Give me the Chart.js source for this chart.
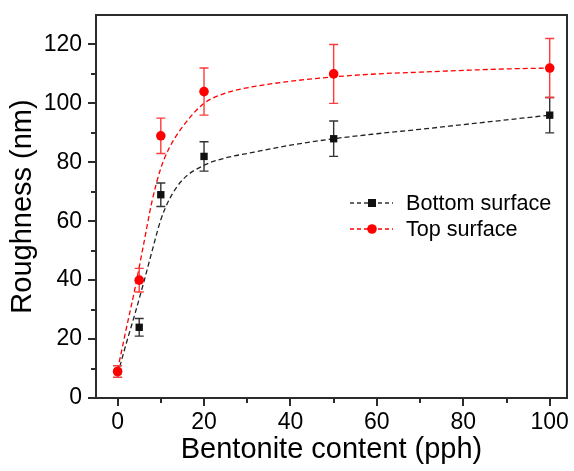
<!DOCTYPE html>
<html>
<head>
<meta charset="utf-8">
<script src="https://cdn.jsdelivr.net/npm/chart.js@4.4.0/dist/chart.umd.min.js"></script>
<style>
  html, body { margin: 0; padding: 0; background: #ffffff; }
  #wrap { width: 574px; height: 471px; }
</style>
</head>
<body>
<div id="wrap"><canvas id="c" width="574" height="471"></canvas></div>
<script>
// ---- data ----
const contents = [0, 5, 10, 20, 50, 100];           // Bentonite content (pph)
const bottomRoughness = [9, 24, 69, 82, 88, 96];     // nm
const bottomError = [2, 3, 4, 5, 6, 6];
const topRoughness = [9, 40, 89, 104, 110, 112];     // nm
const topError = [2, 4, 6, 8, 10, 10];

// dashed fitted curves
const fitContents = [0, 2, 4, 6, 8, 10, 12, 15, 20, 25, 30, 40, 50, 60, 70, 80, 90, 100];
const bottomFit = [8, 18.5, 28.5, 39, 50, 60.5, 67.5, 74, 79, 81.5, 83, 85.8, 88, 89.7, 91.2, 92.8, 94.4, 96];
const topFit = [9.5, 23.5, 37, 52, 67, 78, 85, 92, 100, 103.5, 105.3, 107.5, 109, 110, 110.6, 111.2, 111.7, 112];

const xMajorTicks = [0, 20, 40, 60, 80, 100];
const xMinorTicks = [10, 30, 50, 70, 90];
const yMajorTicks = [0, 20, 40, 60, 80, 100, 120];
const yMinorTicks = [10, 30, 50, 70, 90, 110];

const seriesNames = ['Bottom surface', 'Top surface'];
const xTitle = 'Bentonite content (pph)';
const yTitle = 'Roughness (nm)';

// ---- styling ----
const FONT = "'Liberation Sans', Arial, Helvetica, sans-serif";
const BLACK = '#111111';
const RED = '#ff0000';
const FRAME = '#2b2b2b';

const toXY = (xs, ys) => xs.map((x, i) => ({ x: x, y: ys[i] }));

const errorBarPlugin = {
  id: 'errorBars',
  beforeDatasetDraw(chart, args) {
    const ds = chart.data.datasets[args.index];
    if (!ds.errors) return;
    const ys = chart.scales.y;
    const ctx = chart.ctx;
    ctx.save();
    ctx.strokeStyle = ds.errorColor;
    ctx.lineWidth = 1.4;
    ctx.setLineDash([]);
    const cap = 4.5;
    args.meta.data.forEach((pt, i) => {
      const v = ds.data[i].y, e = ds.errors[i];
      const yTop = ys.getPixelForValue(v + e);
      const yBot = ys.getPixelForValue(v - e);
      const x = pt.x;
      ctx.beginPath();
      ctx.moveTo(x, yTop); ctx.lineTo(x, yBot);
      ctx.moveTo(x - cap, yTop); ctx.lineTo(x + cap, yTop);
      ctx.moveTo(x - cap, yBot); ctx.lineTo(x + cap, yBot);
      ctx.stroke();
    });
    ctx.restore();
  }
};

const framePlugin = {
  id: 'frameTicksLegend',
  afterDraw(chart) {
    const ctx = chart.ctx;
    const a = chart.chartArea;
    const xs = chart.scales.x, ys = chart.scales.y;
    ctx.save();
    ctx.setLineDash([]);
    ctx.strokeStyle = FRAME;
    ctx.lineWidth = 2;
    ctx.strokeRect(a.left, a.top, a.right - a.left, a.bottom - a.top);
    // ticks (outward)
    ctx.beginPath();
    xMajorTicks.forEach(v => { const p = Math.round(xs.getPixelForValue(v)); ctx.moveTo(p, a.bottom); ctx.lineTo(p, a.bottom + 8); });
    xMinorTicks.forEach(v => { const p = Math.round(xs.getPixelForValue(v)); ctx.moveTo(p, a.bottom); ctx.lineTo(p, a.bottom + 5); });
    yMajorTicks.forEach(v => { const p = Math.round(ys.getPixelForValue(v)); ctx.moveTo(a.left, p); ctx.lineTo(a.left - 8, p); });
    yMinorTicks.forEach(v => { const p = Math.round(ys.getPixelForValue(v)); ctx.moveTo(a.left, p); ctx.lineTo(a.left - 5, p); });
    ctx.stroke();

    // legend
    const lx = a.left + 254, rows = [a.top + 188, a.top + 214];
    const styles = [
      { color: BLACK, line: '#333333', marker: 'rect' },
      { color: RED, line: RED, marker: 'circle' }
    ];
    rows.forEach((ry, i) => {
      const s = styles[i];
      ctx.strokeStyle = s.line;
      ctx.lineWidth = 1.3;
      ctx.setLineDash([4, 3]);
      ctx.beginPath();
      ctx.moveTo(lx, ry); ctx.lineTo(lx + 43, ry);
      ctx.stroke();
      ctx.setLineDash([]);
      ctx.fillStyle = s.color;
      const mx = lx + 22;
      if (s.marker === 'rect') {
        ctx.fillRect(mx - 4, ry - 4, 8, 8);
      } else {
        ctx.beginPath(); ctx.arc(mx, ry, 4.8, 0, Math.PI * 2); ctx.fill();
      }
      ctx.fillStyle = '#000';
      ctx.font = '21.6px ' + FONT;
      ctx.textBaseline = 'middle';
      ctx.textAlign = 'left';
      ctx.fillText(seriesNames[i], lx + 56, ry + 1);
    });
    ctx.restore();
  }
};

const noScalePadding = s => { s.paddingTop = 0; s.paddingBottom = 0; s.paddingLeft = 0; s.paddingRight = 0; };

new Chart(document.getElementById('c'), {
  type: 'scatter',
  data: {
    datasets: [
      {
        label: seriesNames[0] + ' fit',
        data: toXY(fitContents, bottomFit),
        showLine: true,
        borderColor: '#222222',
        borderWidth: 1.3,
        borderDash: [5, 3],
        pointRadius: 0,
        cubicInterpolationMode: 'monotone',
        order: 4
      },
      {
        label: seriesNames[1] + ' fit',
        data: toXY(fitContents, topFit),
        showLine: true,
        borderColor: RED,
        borderWidth: 1.3,
        borderDash: [5, 3],
        pointRadius: 0,
        cubicInterpolationMode: 'monotone',
        order: 3
      },
      {
        label: seriesNames[0],
        data: toXY(contents, bottomRoughness),
        errors: bottomError,
        errorColor: '#333333',
        pointStyle: 'rect',
        pointRadius: 5.2,
        backgroundColor: BLACK,
        borderColor: BLACK,
        borderWidth: 0,
        order: 2
      },
      {
        label: seriesNames[1],
        data: toXY(contents, topRoughness),
        errors: topError,
        errorColor: '#ff3b3b',
        pointStyle: 'circle',
        pointRadius: 4.8,
        backgroundColor: RED,
        borderColor: RED,
        borderWidth: 0,
        order: 1
      }
    ]
  },
  options: {
    responsive: false,
    animation: false,
    devicePixelRatio: 1,
    layout: { padding: { left: 0, right: 7, top: 15, bottom: 0 } },
    plugins: { legend: { display: false }, tooltip: { enabled: false } },
    scales: {
      x: {
        type: 'linear',
        min: -5,
        max: 104,
        grid: { display: false, drawTicks: false },
        border: { display: false },
        afterBuildTicks: s => { s.ticks = xMajorTicks.map(v => ({ value: v })); },
        afterFit: s => { s.height = 73; noScalePadding(s); },
        ticks: { color: '#000', font: { family: FONT, size: 23 }, padding: 11, maxRotation: 0 },
        title: { display: true, text: xTitle, color: '#000', font: { family: FONT, size: 29 }, padding: { top: 0, bottom: 4 } }
      },
      y: {
        type: 'linear',
        min: 0,
        max: 130,
        grid: { display: false, drawTicks: false },
        border: { display: false },
        afterBuildTicks: s => { s.ticks = yMajorTicks.map(v => ({ value: v })); },
        afterFit: s => { s.width = 96; noScalePadding(s); },
        ticks: { color: '#000', font: { family: FONT, size: 23 }, padding: 14 },
        title: { display: true, text: yTitle, color: '#000', font: { family: FONT, size: 29 }, padding: { top: 6, bottom: 0 } }
      }
    }
  },
  plugins: [errorBarPlugin, framePlugin]
});
</script>
</body>
</html>
